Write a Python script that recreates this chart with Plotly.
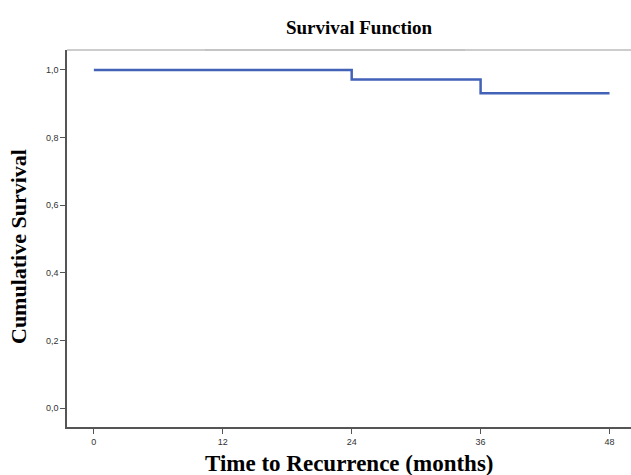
import plotly.graph_objects as go

time_months = [0, 24, 36, 48]
survival = [1.0, 0.972, 0.931, 0.931]
x_ticks = [0, 12, 24, 36, 48]
y_ticks = [0.0, 0.2, 0.4, 0.6, 0.8, 1.0]
y_tick_labels = ["0,0", "0,2", "0,4", "0,6", "0,8", "1,0"]

fig = go.Figure()
fig.add_trace(go.Scatter(
    x=time_months, y=survival, mode="lines", line_shape="hv",
    line=dict(color="#4262B8", width=2.5), showlegend=False, hoverinfo="skip",
))

serif = "Liberation Serif, Times New Roman, serif"
sans = "Liberation Sans, Arial, sans-serif"
W, H = 631, 475
L, T, B = 67, 50, 48
pw, ph = W - L, H - T - B

fig.update_layout(
    width=W, height=H,
    margin=dict(l=L, r=0, t=T, b=B),
    paper_bgcolor="white", plot_bgcolor="white",
    title=dict(text="<b>Survival Function</b>", x=359 / W, xanchor="center",
               y=1 - 27 / H, yanchor="middle",
               font=dict(family=serif, size=19, color="black")),
    xaxis=dict(
        range=[-2.5, 50.0], tickvals=x_ticks, ticktext=[str(v) for v in x_ticks],
        showgrid=False, zeroline=False, showline=True, linecolor="#555555", linewidth=1.5,
        ticks="outside", ticklen=5, tickcolor="#555555", tickwidth=1,
        tickfont=dict(family=sans, size=9, color="#333333"),
    ),
    yaxis=dict(
        range=[-0.056, 1.059], tickvals=y_ticks, ticktext=y_tick_labels,
        showgrid=False, zeroline=False, showline=True, linecolor="#555555", linewidth=1.5,
        ticks="outside", ticklen=5, tickcolor="#555555", tickwidth=1,
        tickfont=dict(family=sans, size=9, color="#333333"),
    ),
)

fig.add_annotation(text="<b>Time to Recurrence (months)</b>", xref="paper", yref="paper",
                   x=(349 - L) / pw, y=-(463 - (T + ph)) / ph, xanchor="center", yanchor="middle",
                   showarrow=False, font=dict(family=serif, size=23, color="black"))
fig.add_annotation(text="<b>Cumulative Survival</b>", xref="paper", yref="paper",
                   x=-(L - 18) / pw, y=1 - (247 - T) / ph, xanchor="center", yanchor="middle",
                   textangle=-90, showarrow=False,
                   font=dict(family=serif, size=22, color="black"))

fig.add_shape(type="line", xref="paper", yref="paper", x0=0, x1=1, y0=1, y1=1,
              line=dict(color="#9a9a9a", width=1))
fig.add_shape(type="line", xref="paper", yref="paper",
              x0=(205 - L) / pw, x1=(465 - L) / pw, y0=1, y1=1,
              line=dict(color="#c4c4c4", width=2))

fig.write_html("out.html")
